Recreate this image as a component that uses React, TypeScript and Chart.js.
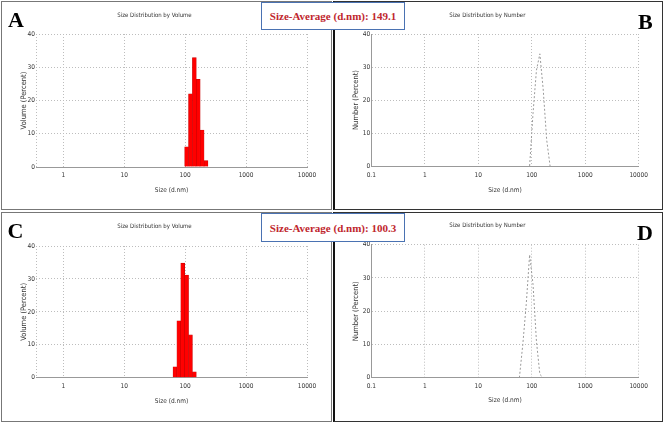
import React, { useEffect, useRef } from "react";
import { Chart, registerables } from "chart.js";

Chart.register(...registerables);

// ---- data ----
const volumeXTicks = [1, 10, 100, 1000, 10000];
const numberXTicks = [0.1, 1, 10, 100, 1000, 10000];
const yTicks = [0, 10, 20, 30, 40];

const sizesA = [105.7, 122.4, 141.8, 164.2, 190.1, 220.2];
const volumeA = [6.1, 22.0, 32.9, 26.4, 11.1, 1.9];

const sizesB = [91.28, 105.7, 122.4, 141.8, 164.2, 190.1, 220.2];
const numberB = [0, 16, 29, 34, 23, 8, 0];

const sizesC = [68.06, 78.82, 91.28, 105.7, 122.4, 141.8];
const volumeC = [3.3, 17.3, 34.8, 31.2, 13.0, 1.8];

const sizesD = [58.77, 68.06, 78.82, 91.28, 105.7, 122.4, 141.8, 164.2];
const numberD = [0, 10, 22, 37, 28, 11, 1, 0];

const zAverageTop = "149.1";
const zAverageBottom = "100.3";

const NARROW = "'Liberation Sans Narrow', 'Arial Narrow', 'DejaVu Sans Condensed', 'Liberation Sans', Arial, sans-serif";

type Spec = {
  kind: "volume" | "number";
  sizes: number[];
  values: number[];
  left: number;
  top: number;
  w: number;
  h: number;
  xMin: number;
  padRight: number;
  titleTop: number;
  titleBottom: number;
  xAxisHeight: number;
  xTickPad: number;
  xTitleBottom: number;
  yAxisWidth: number;
  yTitleTop: number;
};

function PanelChart({ spec }: { spec: Spec }) {
  const ref = useRef<HTMLCanvasElement | null>(null);
  useEffect(() => {
    if (!ref.current) return;
    const isBar = spec.kind === "volume";
    const font = { family: NARROW, size: 6.5 };
    const xTickValues = isBar ? [spec.xMin, ...volumeXTicks] : numberXTicks;
    const ds: any = isBar
      ? {
          data: spec.sizes.map((s, i) => ({ x: s, y: spec.values[i] })),
          backgroundColor: "#ff0000",
          borderColor: "#c80000",
          borderWidth: 0.6,
          barPercentage: 1,
          categoryPercentage: 1,
        }
      : {
          data: spec.sizes.map((s, i) => ({ x: s, y: spec.values[i] })),
          borderColor: "#9a9a9a",
          borderWidth: 1,
          borderDash: [2, 2],
          pointRadius: 0,
          tension: 0,
          fill: false,
        };
    const chart = new Chart(ref.current, {
      type: isBar ? "bar" : "line",
      data: { datasets: [ds] },
      options: {
        animation: false,
        responsive: false,
        maintainAspectRatio: false,
        layout: { padding: { left: 0, right: spec.padRight, top: 0, bottom: 0 } },
        plugins: {
          legend: { display: false },
          tooltip: { enabled: false },
          title: {
            display: true,
            text: isBar ? "Size Distribution by Volume" : "Size Distribution by Number",
            font: { family: NARROW, size: 6, weight: "normal" },
            color: "#333",
            padding: { top: spec.titleTop, bottom: spec.titleBottom },
          },
        },
        scales: {
          x: {
            type: "logarithmic",
            min: spec.xMin,
            max: 10000,
            offset: false,
            afterBuildTicks: (s: any) => {
              s.ticks = xTickValues.map((v) => ({ value: v }));
            },
            afterFit: (s: any) => {
              s.height = spec.xAxisHeight;
            },
            ticks: {
              font,
              color: "#333",
              padding: spec.xTickPad,
              autoSkip: false,
              maxRotation: 0,
              callback: (v: any) => (isBar && v < 1 ? "" : String(v)),
            },
            grid: { color: "#bdbdbd", drawTicks: false, offset: false, lineWidth: 1 },
            border: { display: true, color: "#999", width: 1, dash: [1, 2] },
            title: {
              display: true,
              text: "Size (d.nm)",
              font,
              color: "#333",
              padding: { top: 0, bottom: spec.xTitleBottom },
            },
          },
          y: {
            type: "linear",
            min: 0,
            max: 40,
            afterBuildTicks: (s: any) => {
              s.ticks = yTicks.map((v) => ({ value: v }));
            },
            afterFit: (s: any) => {
              s.width = spec.yAxisWidth;
            },
            ticks: { font, color: "#333", padding: 1 },
            grid: { color: "#bdbdbd", drawTicks: false, lineWidth: 1 },
            border: { display: !isBar, color: "#999", width: 1, dash: [1, 2] },
            title: {
              display: true,
              text: isBar ? "Volume (Percent)" : "Number (Percent)",
              font: { family: NARROW, size: 7.5 },
              color: "#333",
              padding: { top: spec.yTitleTop, bottom: 0 },
            },
          },
        },
      } as any,
    });
    return () => chart.destroy();
  }, [spec]);
  return (
    <canvas
      ref={ref}
      width={spec.w}
      height={spec.h}
      style={{ position: "absolute", left: spec.left, top: spec.top, width: spec.w, height: spec.h }}
    />
  );
}

const specA: Spec = {
  kind: "volume", sizes: sizesA, values: volumeA,
  left: 2, top: 2, w: 329, h: 207, xMin: 0.357, padRight: 24,
  titleTop: 9.4, titleBottom: 15.4, xAxisHeight: 42, xTickPad: 4.8, xTitleBottom: 15.1,
  yAxisWidth: 34, yTitleTop: 17.5,
};
const specB: Spec = {
  kind: "number", sizes: sizesB, values: numberB,
  left: 336, top: 2, w: 326, h: 207, xMin: 0.1, padRight: 23.3,
  titleTop: 9.4, titleBottom: 15.4, xAxisHeight: 43, xTickPad: 5.8, xTitleBottom: 15.1,
  yAxisWidth: 35.3, yTitleTop: 15.5,
};
const specC: Spec = {
  kind: "volume", sizes: sizesC, values: volumeC,
  left: 2, top: 213, w: 329, h: 208, xMin: 0.357, padRight: 24,
  titleTop: 9.4, titleBottom: 16.4, xAxisHeight: 43.3, xTickPad: 5.1, xTitleBottom: 15.4,
  yAxisWidth: 34, yTitleTop: 17.5,
};
const specD: Spec = {
  kind: "number", sizes: sizesD, values: numberD,
  left: 336, top: 213, w: 326, h: 208, xMin: 0.1, padRight: 23.3,
  titleTop: 8.4, titleBottom: 16.1, xAxisHeight: 43.3, xTickPad: 5.1, xTitleBottom: 16.4,
  yAxisWidth: 35.3, yTitleTop: 15.5,
};

const letterStyle: React.CSSProperties = {
  position: "absolute",
  fontFamily: "'Liberation Serif', 'Times New Roman', serif",
  fontWeight: "bold",
  fontSize: 22,
  lineHeight: "22px",
  color: "#000",
};

const avgBox: React.CSSProperties = {
  position: "absolute",
  left: 261,
  width: 144,
  boxSizing: "border-box",
  border: "1.5px solid #4a72b2",
  background: "#fff",
  display: "flex",
  alignItems: "center",
  justifyContent: "center",
  fontFamily: "'Liberation Serif', 'Times New Roman', serif",
  fontWeight: "bold",
  fontSize: 11,
  color: "#c0262d",
  whiteSpace: "nowrap",
  zIndex: 5,
};

export default function App() {
  return (
    <div style={{ position: "absolute", left: 0, top: 0, width: 664, height: 423, background: "#fff", overflow: "hidden" }}>
      <div style={{ position: "absolute", left: 1, top: 1, width: 331, height: 209, boxSizing: "border-box", border: "1px solid #777" }} />
      <div style={{ position: "absolute", left: 333, top: 1, width: 330, height: 209, boxSizing: "border-box", border: "1px solid #333", borderLeft: "2px solid #111" }} />
      <div style={{ position: "absolute", left: 1, top: 212, width: 331, height: 210, boxSizing: "border-box", border: "1px solid #777" }} />
      <div style={{ position: "absolute", left: 333, top: 212, width: 330, height: 210, boxSizing: "border-box", border: "1px solid #333", borderLeft: "2px solid #111" }} />
      <PanelChart spec={specA} />
      <PanelChart spec={specB} />
      <PanelChart spec={specC} />
      <PanelChart spec={specD} />
      <div style={{ ...letterStyle, left: 8, top: 9 }}>A</div>
      <div style={{ ...letterStyle, left: 638, top: 11 }}>B</div>
      <div style={{ ...letterStyle, left: 7.5, top: 219.5 }}>C</div>
      <div style={{ ...letterStyle, left: 637, top: 222 }}>D</div>
      <div style={{ ...avgBox, top: 2, height: 28 }}>Size-Average (d.nm): {zAverageTop}</div>
      <div style={{ ...avgBox, top: 213, height: 29 }}>Size-Average (d.nm): {zAverageBottom}</div>
    </div>
  );
}
